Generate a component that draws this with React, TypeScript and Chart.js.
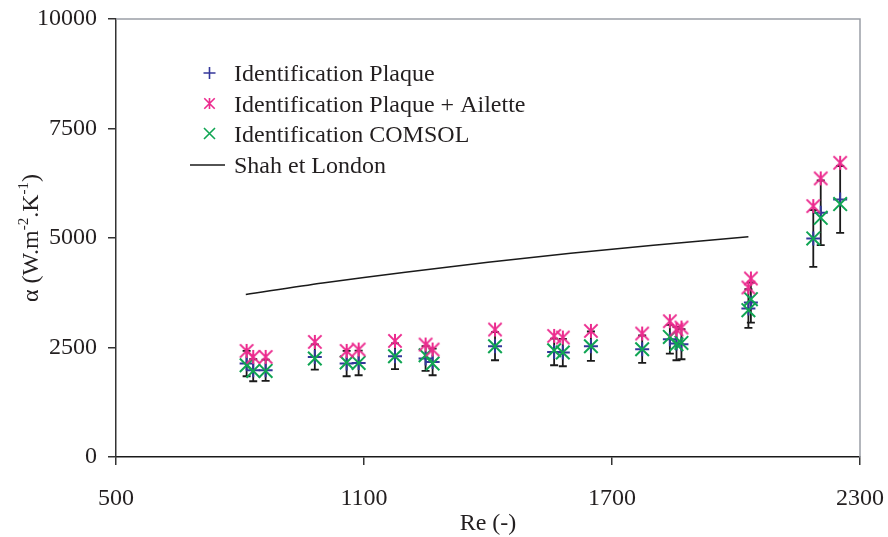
import React, { useEffect, useRef } from 'react';
import { Chart, registerables } from 'chart.js';

Chart.register(...registerables);

// ---- Data ----
const reynolds = [816, 832, 862, 981, 1058, 1087, 1175, 1249, 1266, 1417, 1560, 1581, 1649, 1773, 1840, 1856, 1868, 2030, 2036, 2187, 2205, 2252];
const plaque = [2134, 1981, 1980, 2285, 2134, 2148, 2300, 2248, 2171, 2529, 2399, 2385, 2529, 2461, 2689, 2590, 2575, 3390, 3527, 4990, 5575, 5881];
const plaqueAilette = [2422, 2285, 2285, 2628, 2422, 2453, 2650, 2568, 2453, 2910, 2765, 2727, 2879, 2819, 3100, 2910, 2956, 3870, 4076, 5728, 6361, 6717];
const comsol = [2095, 1965, 1965, 2248, 2157, 2148, 2300, 2324, 2134, 2529, 2438, 2385, 2529, 2461, 2742, 2575, 2605, 3352, 3603, 4990, 5460, 5774];
const plaqueError = [290, 251, 244, 288, 290, 281, 296, 283, 304, 320, 304, 313, 336, 313, 327, 381, 343, 440, 457, 649, 738, 763];
const shahRe = [814, 1000, 1200, 1400, 1600, 1800, 2030];
const shahAlpha = [3710, 3975, 4220, 4445, 4650, 4835, 5030];
const xTicks = [500, 1100, 1700, 2300];
const yTicks = [0, 2500, 5000, 7500, 10000];
const legendLabels = ['Identification Plaque', 'Identification Plaque + Ailette', 'Identification COMSOL', 'Shah et London'];

const BLUE = '#34379a';
const PINK = '#ec2a8e';
const GREEN = '#10a553';
const TEXT = '#231f20';
const FONT = "'Liberation Serif', 'Times New Roman', serif";

function makeAsterisk(color: string, r: number, lw: number): HTMLCanvasElement {
  const size = Math.ceil(2 * r + 4);
  const c = document.createElement('canvas');
  c.width = size;
  c.height = size;
  const ctx = c.getContext('2d')!;
  const m = size / 2;
  ctx.strokeStyle = color;
  ctx.lineWidth = lw;
  ctx.beginPath();
  ctx.moveTo(m, m - r);
  ctx.lineTo(m, m + r);
  const d = r * 0.95;
  ctx.moveTo(m - d, m - d);
  ctx.lineTo(m + d, m + d);
  ctx.moveTo(m - d, m + d);
  ctx.lineTo(m + d, m - d);
  ctx.stroke();
  return c;
}

function drawMarker(ctx: CanvasRenderingContext2D, kind: string, x: number, y: number, r: number) {
  ctx.beginPath();
  if (kind === 'plus') {
    ctx.moveTo(x - r, y); ctx.lineTo(x + r, y);
    ctx.moveTo(x, y - r); ctx.lineTo(x, y + r);
  } else if (kind === 'x') {
    ctx.moveTo(x - r, y - r); ctx.lineTo(x + r, y + r);
    ctx.moveTo(x - r, y + r); ctx.lineTo(x + r, y - r);
  } else if (kind === 'ast') {
    ctx.moveTo(x, y - r); ctx.lineTo(x, y + r);
    const d = r * 0.95;
    ctx.moveTo(x - d, y - d); ctx.lineTo(x + d, y + d);
    ctx.moveTo(x - d, y + d); ctx.lineTo(x + d, y - d);
  }
  ctx.stroke();
}

const errorBarPlugin = {
  id: 'errorBars',
  beforeDatasetsDraw(chart: any) {
    const { ctx, scales } = chart;
    const x = scales.x, y = scales.y;
    ctx.save();
    ctx.strokeStyle = '#1a1a1a';
    ctx.lineWidth = 1.8;
    reynolds.forEach((re, i) => {
      const px = x.getPixelForValue(re);
      const top = y.getPixelForValue(plaque[i] + plaqueError[i]);
      const bot = y.getPixelForValue(plaque[i] - plaqueError[i]);
      ctx.beginPath();
      ctx.moveTo(px, top); ctx.lineTo(px, bot);
      ctx.moveTo(px - 4, top); ctx.lineTo(px + 4, top);
      ctx.moveTo(px - 4, bot); ctx.lineTo(px + 4, bot);
      ctx.stroke();
    });
    ctx.restore();
  },
};

const decorPlugin = {
  id: 'decor',
  afterDraw(chart: any) {
    const { ctx, chartArea } = chart;
    const { left, right, top, bottom } = chartArea;
    ctx.save();
    // top & right frame
    ctx.strokeStyle = '#9a9ea6';
    ctx.lineWidth = 1.5;
    ctx.beginPath();
    ctx.moveTo(left, top); ctx.lineTo(right, top); ctx.lineTo(right, bottom);
    ctx.stroke();

    // legend
    const rows = [73, 103.5, 133.5, 165];
    const kinds = ['plus', 'ast', 'x', 'line'];
    const colors = [BLUE, PINK, GREEN, '#1a1a1a'];
    ctx.font = `24px ${FONT}`;
    ctx.fillStyle = TEXT;
    ctx.textBaseline = 'alphabetic';
    ctx.textAlign = 'left';
    rows.forEach((ry, i) => {
      ctx.strokeStyle = colors[i];
      ctx.lineWidth = 1.6;
      if (kinds[i] === 'line') {
        ctx.beginPath();
        ctx.moveTo(190, ry); ctx.lineTo(225, ry);
        ctx.stroke();
      } else {
        drawMarker(ctx, kinds[i], 209.5, ry, kinds[i] === 'plus' ? 6 : 5.5);
      }
      ctx.fillText(legendLabels[i], 234, ry + 8);
    });

    // x title
    ctx.font = `24px ${FONT}`;
    ctx.textAlign = 'center';
    ctx.fillText('Re (-)', (left + right) / 2, 530);

    // y title with superscripts
    const segs: [string, boolean][] = [['α (W.m', false], ['-2', true], ['.K', false], ['-1', true], [')', false]];
    const mainFont = `24px ${FONT}`;
    const supFont = `15px ${FONT}`;
    let total = 0;
    const widths = segs.map(([t, sup]) => {
      ctx.font = sup ? supFont : mainFont;
      const w = ctx.measureText(t).width;
      total += w;
      return w;
    });
    ctx.translate(37.5, (top + bottom) / 2);
    ctx.rotate(-Math.PI / 2);
    ctx.textAlign = 'left';
    let cx = -total / 2;
    segs.forEach(([t, sup], i) => {
      ctx.font = sup ? supFont : mainFont;
      ctx.fillText(t, cx, sup ? -10 : 0);
      cx += widths[i];
    });
    ctx.restore();
  },
};

export default function App() {
  const canvasRef = useRef<HTMLCanvasElement | null>(null);

  useEffect(() => {
    document.body.style.margin = '0';
    const canvas = canvasRef.current;
    if (!canvas) return;
    const asterisk = makeAsterisk(PINK, 7, 2);

    const chart = new Chart(canvas, {
      type: 'scatter',
      data: {
        datasets: [
          {
            label: legendLabels[1],
            data: reynolds.map((r, i) => ({ x: r, y: plaqueAilette[i] })),
            pointStyle: asterisk as any,
            pointRadius: 6,
            borderColor: PINK,
            backgroundColor: PINK,
            order: 1,
          },
          {
            label: legendLabels[2],
            data: reynolds.map((r, i) => ({ x: r, y: comsol[i] })),
            pointStyle: 'crossRot',
            pointRadius: 9.6,
            borderWidth: 2,
            borderColor: GREEN,
            backgroundColor: GREEN,
            order: 2,
          },
          {
            label: legendLabels[0],
            data: reynolds.map((r, i) => ({ x: r, y: plaque[i] })),
            pointStyle: 'cross',
            pointRadius: 7,
            borderWidth: 2,
            borderColor: BLUE,
            backgroundColor: BLUE,
            order: 3,
          },
          {
            type: 'line' as any,
            label: legendLabels[3],
            data: shahRe.map((r, i) => ({ x: r, y: shahAlpha[i] })),
            borderColor: '#1a1a1a',
            borderWidth: 1.5,
            pointRadius: 0,
            showLine: true,
            fill: false,
            tension: 0.3,
            order: 4,
          },
        ],
      },
      options: {
        animation: false,
        responsive: false,
        events: [],
        layout: { padding: { top: 19, right: 28, left: 0, bottom: 0 } },
        plugins: { legend: { display: false }, tooltip: { enabled: false } },
        scales: {
          x: {
            type: 'linear',
            min: 500,
            max: 2300,
            afterBuildTicks: (s: any) => { s.ticks = xTicks.map((v) => ({ value: v })); },
            afterFit: (s: any) => { s.height = 80; s.paddingLeft = 0; s.paddingRight = 0; },
            grid: { drawOnChartArea: false, drawTicks: true, tickLength: 8, tickColor: '#333', lineWidth: 1.5 },
            border: { display: true, color: '#1a1a1a', width: 1.5 },
            ticks: { font: { family: FONT, size: 24 }, color: TEXT, padding: 19, maxRotation: 0, callback: (v: any) => String(v) },
          },
          y: {
            type: 'linear',
            min: 0,
            max: 10000,
            afterBuildTicks: (s: any) => { s.ticks = yTicks.map((v) => ({ value: v })); },
            afterFit: (s: any) => { s.width = 116; s.paddingTop = 0; s.paddingBottom = 0; },
            grid: { drawOnChartArea: false, drawTicks: true, tickLength: 8, tickColor: '#333', lineWidth: 1.5 },
            border: { display: true, color: '#333', width: 1.5 },
            ticks: { font: { family: FONT, size: 24 }, color: TEXT, padding: 11, callback: (v: any) => String(v) },
          },
        },
      },
      plugins: [errorBarPlugin, decorPlugin],
    });
    return () => chart.destroy();
  }, []);

  return (
    <div style={{ width: 888, height: 537, background: '#fff' }}>
      <canvas ref={canvasRef} width={888} height={537} style={{ display: 'block' }} />
    </div>
  );
}
